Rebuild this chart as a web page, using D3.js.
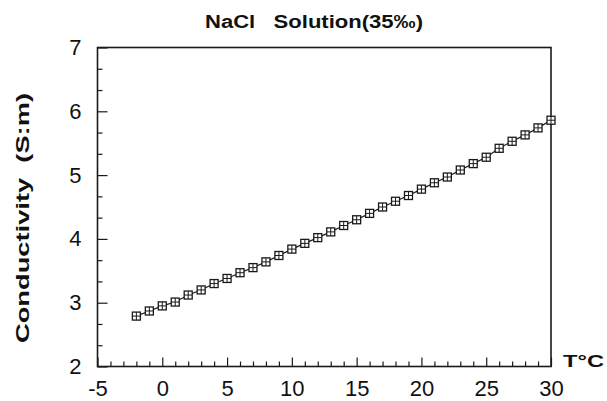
<!DOCTYPE html>
<html>
<head>
<meta charset="utf-8">
<script src="https://cdn.jsdelivr.net/npm/d3@7/dist/d3.min.js"></script>
<style>
  html, body { margin: 0; padding: 0; background: #fff; }
  svg { display: block; }
  text { font-family: "Liberation Sans", Arial, Helvetica, sans-serif; fill: #111; }
</style>
</head>
<body>
<svg id="chart" width="607" height="401"></svg>
<script>
// Conductivity of a 35‰ NaCl solution versus temperature
const temperature = [-2, -1, 0, 1, 2, 3, 4, 5, 6, 7, 8, 9, 10, 11, 12, 13, 14, 15,
                     16, 17, 18, 19, 20, 21, 22, 23, 24, 25, 26, 27, 28, 29, 30];
const conductivity = [2.79, 2.87, 2.95, 3.01, 3.12, 3.20, 3.30, 3.38, 3.47, 3.55, 3.64,
                      3.74, 3.84, 3.93, 4.02, 4.11, 4.21, 4.30, 4.40, 4.50, 4.59, 4.68,
                      4.78, 4.88, 4.97, 5.08, 5.18, 5.28, 5.42, 5.53, 5.63, 5.74, 5.86];
const xTicks = [-5, 0, 5, 10, 15, 20, 25, 30];
const yTicks = [2, 3, 4, 5, 6, 7];
const titleText = "NaCl\u00a0\u00a0 Solution(35\u2030)";
const yLabelText = "Conductivity\u00a0\u00a0(S:m)";
const xLabelText = "T\u00b0C";

const points = temperature.map((t, i) => ({ t, c: conductivity[i] }));

const svg = d3.select("#chart");
const m = { left: 97.5, right: 551, top: 47.5, bottom: 366.5 };

const x = d3.scaleLinear().domain([-5, 30]).range([m.left, m.right]);
const y = d3.scaleLinear().domain([2, 7]).range([m.bottom, m.top]);

const ink = "#1a1a1a";
const fmt = d => String(d);   // plain hyphen for negatives

// minor ticks: every 1 °C on x, every 1/3 unit on y
const xMinor = d3.range(-5, 31, 1).filter(v => v % 5 !== 0);
const yMinor = d3.range(0, 16).map(i => 2 + i / 3).filter((v, i) => i % 3 !== 0);

// x axis (ticks point into the plot)
const xAxis = d3.axisBottom(x).tickValues(xTicks).tickFormat(fmt)
  .tickSizeInner(-9).tickSizeOuter(0).tickPadding(14);
const gx = svg.append("g").attr("transform", `translate(0,${m.bottom})`).call(xAxis);
gx.select(".domain").remove();
gx.selectAll(".tick line").attr("stroke", ink).attr("stroke-width", 1.2);
gx.selectAll(".tick text").attr("font-size", 22).attr("fill", "#111")
  .attr("font-family", "Liberation Sans, Arial, sans-serif");

const xAxisMinor = d3.axisBottom(x).tickValues(xMinor).tickFormat("")
  .tickSizeInner(-5).tickSizeOuter(0);
const gxm = svg.append("g").attr("transform", `translate(0,${m.bottom})`).call(xAxisMinor);
gxm.select(".domain").remove();
gxm.selectAll(".tick line").attr("stroke", ink).attr("stroke-width", 1.2);

// y axis
const yAxis = d3.axisLeft(y).tickValues(yTicks).tickFormat(fmt)
  .tickSizeInner(-10).tickSizeOuter(0).tickPadding(16);
const gy = svg.append("g").attr("transform", `translate(${m.left},0)`).call(yAxis);
gy.select(".domain").remove();
gy.selectAll(".tick line").attr("stroke", ink).attr("stroke-width", 1.2);
gy.selectAll(".tick text").attr("font-size", 22).attr("fill", "#111")
  .attr("font-family", "Liberation Sans, Arial, sans-serif");

const yAxisMinor = d3.axisLeft(y).tickValues(yMinor).tickFormat("")
  .tickSizeInner(-5).tickSizeOuter(0);
const gym = svg.append("g").attr("transform", `translate(${m.left},0)`).call(yAxisMinor);
gym.select(".domain").remove();
gym.selectAll(".tick line").attr("stroke", ink).attr("stroke-width", 1.2);

// frame
svg.append("rect")
  .attr("x", m.left).attr("y", m.top)
  .attr("width", m.right - m.left).attr("height", m.bottom - m.top)
  .attr("fill", "none").attr("stroke", ink).attr("stroke-width", 1.6);

// data line
const line = d3.line().x(d => x(d.t)).y(d => y(d.c));
svg.append("path").datum(points)
  .attr("d", line).attr("fill", "none").attr("stroke", ink).attr("stroke-width", 1.2);

// square markers with an inner cross
const s = 8;
const mk = svg.append("g").selectAll("g").data(points).join("g")
  .attr("transform", d => `translate(${x(d.t)},${y(d.c)})`);
mk.append("rect")
  .attr("x", -s / 2).attr("y", -s / 2).attr("width", s).attr("height", s)
  .attr("fill", "#fff").attr("stroke", ink).attr("stroke-width", 1.3);
mk.append("path")
  .attr("d", `M${-s / 2},0H${s / 2}M0,${-s / 2}V${s / 2}`)
  .attr("stroke", ink).attr("stroke-width", 1);

// title and axis labels
svg.append("text")
  .attr("x", 205).attr("y", 28)
  .attr("font-size", 18).attr("font-weight", "bold")
  .attr("textLength", 218).attr("lengthAdjust", "spacingAndGlyphs")
  .text(titleText);

svg.append("text")
  .attr("transform", `translate(29,343) rotate(-90)`)
  .attr("font-size", 18).attr("font-weight", "bold")
  .attr("textLength", 250).attr("lengthAdjust", "spacingAndGlyphs")
  .text(yLabelText);

svg.append("text")
  .attr("x", 563).attr("y", 367)
  .attr("font-size", 17).attr("font-weight", "bold")
  .attr("textLength", 41).attr("lengthAdjust", "spacingAndGlyphs")
  .text(xLabelText);
</script>
</body>
</html>
